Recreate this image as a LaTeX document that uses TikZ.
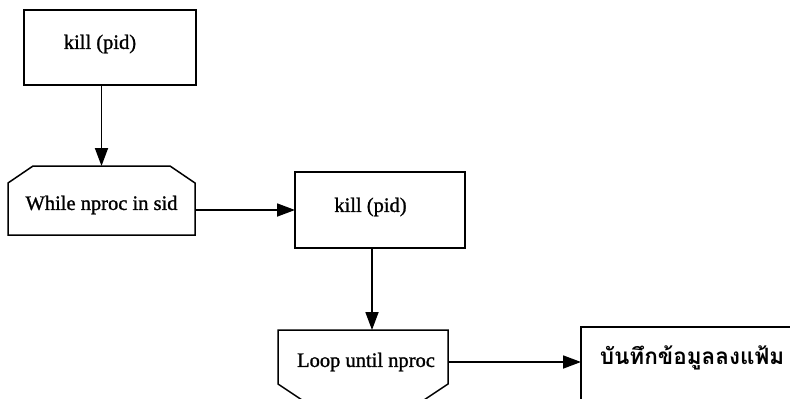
\documentclass[tikz,border=0pt]{standalone}
\usepackage{fontspec}
\setmainfont{Liberation Serif}[FakeBold=1.2]
\newfontfamily\thaifont[Script=Thai]{Loma}
\usetikzlibrary{arrows.meta}
\tikzset{
  boxnode/.style={draw, line width=2pt, rectangle, inner sep=0pt, outer sep=0pt},
  frame/.style={rectangle, inner sep=0pt, outer sep=0pt},
  outline/.style={line width=1.5pt, line join=miter},
  label/.style={inner sep=0pt, font=\fontsize{20.5}{24}\selectfont},
  arr/.style={line width=1.8pt, -{Triangle[length=18pt,width=13pt]}},
}
\begin{document}
\begin{tikzpicture}[x=1pt,y=-1pt]
\useasboundingbox (0,0) rectangle (790,399);
\clip (0,0) rectangle (790,399);
% first kill step
\node[boxnode, minimum width=172pt, minimum height=75pt] (k1) at (110,47.5) {};
\node[label] (k1t) at (100,44) {kill (pid)};
% while loop header (top corners cut)
\node[frame, minimum width=187pt, minimum height=69pt] (wh) at (101.5,200.5) {};
\draw[outline] ([yshift=-17pt]wh.north west) -- ([xshift=25pt]wh.north west)
  -- ([xshift=-25pt]wh.north east) -- ([yshift=-17pt]wh.north east)
  -- (wh.south east) -- (wh.south west) -- cycle;
\node[label] (wht) at (101.5,205) {While nproc in sid};
% kill inside the loop
\node[boxnode, minimum width=170pt, minimum height=76pt] (k2) at (380,210) {};
\node[label] (k2t) at (370.5,207) {kill (pid)};
% loop end (bottom corners cut)
\node[frame, minimum width=170pt, minimum height=76pt] (lp) at (363,368) {};
\draw[outline] (lp.north west) -- (lp.north east)
  -- ([yshift=22pt]lp.south east) -- ([xshift=-33pt]lp.south east)
  -- ([xshift=33pt]lp.south west) -- ([yshift=22pt]lp.south west) -- cycle;
\node[label] (lpt) at (366,362) {Loop until nproc};
% save step
\node[boxnode, minimum width=230pt, minimum height=100pt] (sv) at (696,377) {};
\node[inner sep=0pt, font=\thaifont\bfseries\fontsize{22.5}{26}\selectfont] (svt) at (692,358) {บันทึกข้อมูลลงแฟ้ม};
% connectors
\draw[arr] (wh.north |- k1.south) -- (wh.north);
\draw[arr] (wh.east |- k2.west) -- (k2.west);
\draw[arr] ([xshift=-8pt]k2.south) -- ([xshift=-8pt]k2.south |- lp.north);
\draw[arr] (lp.east |- lpt.center) -- (lpt.center -| sv.west);
\end{tikzpicture}
\end{document}
